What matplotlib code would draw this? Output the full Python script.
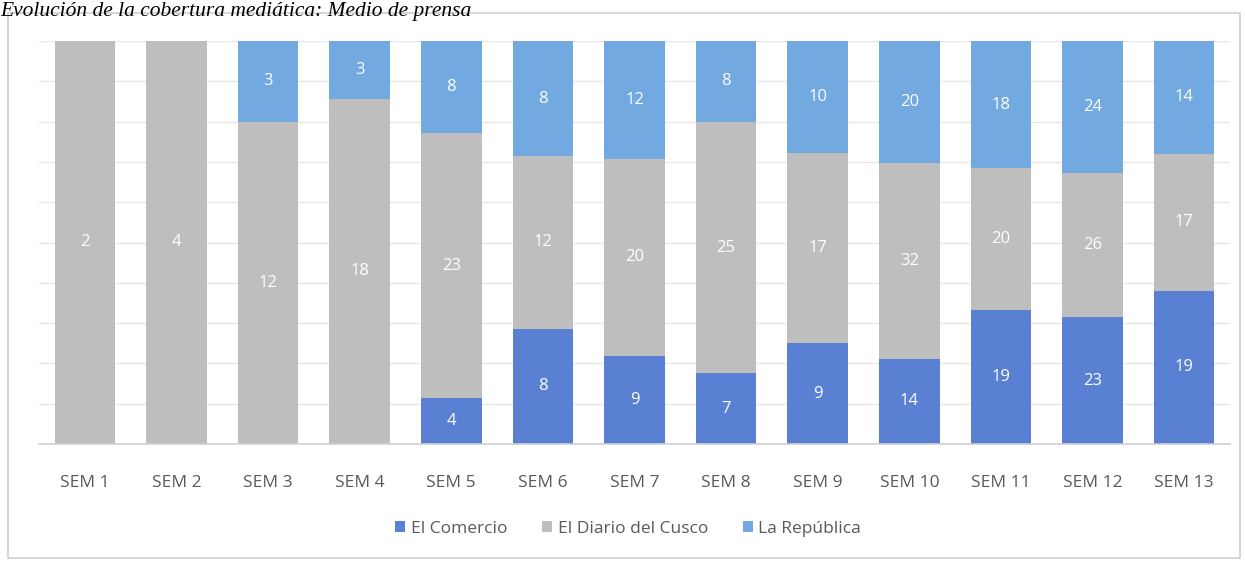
import matplotlib
matplotlib.use("Agg")
import matplotlib.pyplot as plt
import numpy as np
from matplotlib.patches import Rectangle

categories = ["SEM 1", "SEM 2", "SEM 3", "SEM 4", "SEM 5", "SEM 6", "SEM 7",
              "SEM 8", "SEM 9", "SEM 10", "SEM 11", "SEM 12", "SEM 13"]
el_comercio = [0, 0, 0, 0, 4, 8, 9, 7, 9, 14, 19, 23, 19]
diario_cusco = [2, 4, 12, 18, 23, 12, 20, 25, 17, 32, 20, 26, 17]
la_republica = [0, 0, 3, 3, 8, 8, 12, 8, 10, 20, 18, 24, 14]
series_names = ["El Comercio", "El Diario del Cusco", "La República"]
colors = ["#5A80D4", "#BEBEBE", "#72A9E0"]

plt.rcParams['font.family'] = ['Open Sans', 'DejaVu Sans']

fig = plt.figure(figsize=(12.45, 5.61), dpi=100)
fig.patch.set_facecolor("white")
# outer frame
fig.add_artist(Rectangle((8/1245, 3/561), 1232/1245, 545/561, transform=fig.transFigure,
                         fill=False, edgecolor="#D0D0D0", linewidth=1.2))
fig.text(0/1245, 1 - 16/561, "Evolución de la cobertura mediática: Medio de prensa",
         family="Liberation Serif", style="italic", fontsize=15.5, va="baseline", ha="left")

ax = fig.add_axes([39/1245, 1 - 444/561, 1191/1245, 403/561])
data = np.array([el_comercio, diario_cusco, la_republica], dtype=float)
totals = data.sum(axis=0)
pct = data / totals
x = np.arange(len(categories))
bottom = np.zeros(len(categories))
for i in range(3):
    ax.bar(x, pct[i], bottom=bottom, width=0.66, color=colors[i], label=series_names[i], zorder=2)
    for j in range(len(categories)):
        if data[i, j] > 0:
            ax.text(x[j], bottom[j] + pct[i, j] / 2, f"{int(data[i, j])}", ha="center", va="center",
                    color="white", fontsize=12, zorder=3)
    bottom += pct[i]

ax.set_xlim(-0.5, len(categories) - 0.5)
ax.set_ylim(0, 1)
ax.set_yticks(np.arange(0, 1.01, 0.1))
ax.yaxis.grid(True, color="#E8E8E8", linewidth=1, zorder=0)
ax.set_yticklabels([])
ax.tick_params(axis="y", length=0)
ax.tick_params(axis="x", length=0, pad=22, labelsize=12.5, labelcolor="#595959")
ax.set_xticks(x)
ax.set_xticklabels(categories)
for s in ["top", "right", "left"]:
    ax.spines[s].set_visible(False)
ax.spines["bottom"].set_color("#D0D0D0")
ax.spines["bottom"].set_linewidth(1.2)

leg = fig.legend(loc="center", bbox_to_anchor=(628/1245, 1 - 529/561), ncol=3, frameon=False,
                 fontsize=12.5, handlelength=0.6, handleheight=0.6, columnspacing=2.0, handletextpad=0.3)
for t in leg.get_texts():
    t.set_color("#595959")

fig.savefig("out.png", dpi=100, facecolor="white")
